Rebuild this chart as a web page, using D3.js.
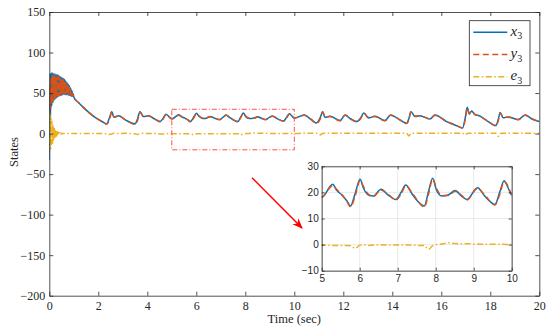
<!DOCTYPE html>
<html>
<head>
<meta charset="utf-8">
<script src="https://cdn.jsdelivr.net/npm/d3@7"></script>
<style>
  body { margin: 0; background: #fff; }
  svg { display: block; }
</style>
</head>
<body>
<svg id="chart" width="550" height="335"></svg>
<script>
// time (sec), shared by the three series
var time = [
  0, 0.025, 0.05, 0.075, 0.1, 0.125, 0.15, 0.175, 0.2, 0.225,
  0.25, 0.275, 0.3, 0.325, 0.35, 0.375, 0.4, 0.425, 0.45, 0.475,
  0.5, 0.525, 0.55, 0.575, 0.6, 0.625, 0.65, 0.675, 0.7, 0.725,
  0.75, 0.775, 0.8, 0.825, 0.85, 0.875, 0.9, 0.925, 0.95, 0.975, 1.0,
  1.2, 1.4, 1.6, 1.8, 2.0, 2.2, 2.34, 2.45, 2.55, 2.64,
  2.82, 3.1, 3.5, 3.6, 3.7, 3.84, 4.04, 4.3, 4.52, 4.65,
  4.76, 5.0, 5.29, 5.39, 5.53, 5.66, 5.76, 5.88, 6.01, 6.1,
  6.23, 6.36, 6.56, 6.75, 6.95, 7.1, 7.21, 7.37, 7.54, 7.7,
  7.81, 7.92, 8.02, 8.16, 8.33, 8.51, 8.68, 8.82, 9.1, 9.3,
  9.56, 9.69, 9.8, 9.91, 10.0,
  10.4, 10.7, 10.9, 11.05, 11.16, 11.25, 11.46, 11.87, 12.07, 12.3,
  12.55, 12.7, 12.84, 13.02, 13.29, 13.7, 13.93, 14.3, 14.59, 14.68,
  14.76, 14.93, 15.13, 15.54, 15.74, 16.22, 16.6, 16.87, 16.98, 17.06,
  17.14, 17.24, 17.37, 17.55, 17.9, 18.23, 18.33, 18.4, 18.53, 18.73,
  19.14, 19.42, 19.7, 20.0
];
var x3 = [
  -33, 74, 22, 75, 34, 75, 38, 74, 41, 74,
  43, 73, 44, 73, 45, 72, 46, 71, 47, 70,
  47, 69, 48, 68, 48, 67, 48, 65, 48, 63,
  48, 61, 47, 59, 47, 56, 46, 53, 46, 49, 45,
  38, 32, 26.5, 21.5, 17.5, 14, 12, 19, 27, 20,
  22, 17, 12, 18, 27, 21, 22, 18, 15, 19,
  24, 18.1, 23.1, 20.9, 19, 16.8, 14.8, 19.6, 25, 21.6,
  19, 18.6, 21.2, 19, 17.3, 20.3, 22.8, 19.6, 16.4, 14.8,
  20.3, 25.4, 20.9, 18.6, 19, 20.7, 18.6, 17.3, 21.8, 18.4,
  15.4, 20.3, 24.5, 21.6, 19,
  23, 17, 13, 19, 27, 20, 21.4, 16, 23, 18,
  14.8, 19, 25.5, 19.3, 21.3, 16, 23, 17, 12.7, 19,
  27, 21, 22, 18, 23, 14.8, 10, 7, 20, 32.4,
  24, 28, 23.4, 22, 15, 9.9, 18, 26, 19.4, 20.6,
  17.3, 23, 18, 14.8
];
var y3 = [
  30, 62, 30, 70, 37, 72, 40, 72, 43, 72,
  44, 71, 45, 71, 46, 70, 47, 69, 48, 68,
  48, 67, 49, 66, 49, 65, 49, 63, 49, 61,
  49, 59, 48, 57, 48, 55, 47, 52, 46, 48, 45,
  38, 32, 26.5, 21.5, 17.5, 14, 11.5, 16.5, 26.5, 20.5,
  21.8, 17.3, 11.5, 16, 26.5, 21.5, 21.8, 18.3, 14.5, 18,
  23.5, 18.3, 22.6, 21.2, 19.2, 16.6, 14.5, 18.6, 24.6, 22.2,
  19.3, 18.4, 20.9, 19.3, 17.1, 19.6, 22.5, 20.1, 16.5, 14.4,
  19.3, 25.1, 21.6, 18.8, 18.8, 20.4, 18.9, 17.1, 21.5, 18.8,
  15.2, 19.4, 24.2, 22.2, 19.4,
  22.6, 17.4, 12.5, 17.5, 26.5, 20.6, 21.1, 15.7, 22.6, 18.4,
  14.4, 18, 25, 20, 21, 15.8, 22.6, 17.3, 12.3, 17.5,
  26.5, 21.6, 21.7, 18.2, 22.5, 15, 10.2, 6.8, 18, 31.5,
  25, 27.4, 23.8, 21.7, 15.3, 9.6, 16.5, 25.5, 20, 20.3,
  17.1, 22.6, 18.3, 14.6
];
var e3 = [
  27, -21, 24, -18, 17, -13, 11, -9, 8, -6,
  5, -4, 3.5, -2.5, 2, -1.5, 1.2, -1, 0.8, -0.6,
  0.4, -0.3, 0.2, 0, 0, 0, 0, 0, 0, 0,
  0, 0, 0, 0, 0, 0, 0, 0, 0, 0, 0,
  0, 0, 0, 0, 0, 0, -0.3, -1, -0.5, 0.4,
  0, 0.3, -0.3, -1, -0.5, 0.4, 0, 0.2, -0.4, -0.6,
  0, -0.2, -0.3, -0.3, -0.3, -0.3, -0.4, -1.4, -0.2, -0.1,
  -0.3, -0.2, -0.1, -0.2, -0.2, -0.2, -0.2, -0.2, -0.3, -0.3,
  -1.8, -0.4, 0, 0.2, 0.7, 0.4, 0.3, 0.3, 0.2, 0.1,
  0.1, 0.1, 0.1, 0, 0,
  0.5, 0.5, 0.4, -1.6, 0.2, 0.5, 0.5, 0.5, 0.4, 0.5,
  0.5, 0.5, 0.4, 0.5, 0.5, 0.5, 0.4, 0.5, 0.3, -3,
  0.2, 0.5, 0.5, 0.5, 0.4, 0.5, 0.5, 0.5, -1.6, 0.2,
  0.4, 0.4, 0.5, 0.5, 0.5, 0.5, -3.3, 0, 0.4, 0.5,
  0.5, 0.4, 0.5, 0.5
];
var seriesNames = ['x', 'y', 'e'];
var xTicks = [0, 2, 4, 6, 8, 10, 12, 14, 16, 18, 20];
var yTicks = [-200, -150, -100, -50, 0, 50, 100, 150];
var zoomXTicks = [5, 6, 7, 8, 9, 10];
var zoomYTicks = [-10, 0, 10, 20, 30];

var svg = d3.select('#chart');
var ink = '#262626';
var colors = ['#0072BD', '#D95319', '#EDB120'];
var dashes = [null, '6,3.5', '6,2.5,1.5,2.5'];
var serif = "'Liberation Serif', 'Times New Roman', Times, serif";
var sans = "'Liberation Sans', Arial, Helvetica, sans-serif";
var fmt = d3.format('d');

var series = [x3, y3, e3].map(function (vals) {
  return vals.map(function (v, i) { return [time[i], v]; });
});

// ---- main axes
var m = {left: 49.3, right: 539.3, top: 12, bottom: 295.7};
var x = d3.scaleLinear().domain([0, 20]).range([m.left, m.right]);
var y = d3.scaleLinear().domain([-200, 150]).range([m.bottom, m.top]);

var defs = svg.append('defs');
defs.append('clipPath').attr('id', 'clipMain')
  .append('rect').attr('x', m.left).attr('y', m.top)
  .attr('width', m.right - m.left).attr('height', m.bottom - m.top);

var line = d3.line().x(function (d) { return x(d[0]); }).y(function (d) { return y(d[1]); })
  .curve(d3.curveMonotoneX);

var plot = svg.append('g').attr('clip-path', 'url(#clipMain)');
series.forEach(function (s, i) {
  plot.append('path').datum(s).attr('d', line)
    .attr('fill', 'none').attr('stroke', colors[i]).attr('stroke-width', 1.5)
    .attr('stroke-dasharray', dashes[i]);
});

function styleAxis(g, font, size) {
  g.attr('font-family', font).attr('font-size', size);
  g.select('.domain').attr('stroke', ink).attr('stroke-width', 0.8);
  g.selectAll('.tick line').attr('stroke', ink).attr('stroke-width', 0.8);
  g.selectAll('.tick text').attr('fill', ink).attr('font-family', font).attr('font-size', size);
}

svg.append('g').attr('transform', 'translate(0,' + m.bottom + ')')
  .call(d3.axisBottom(x).tickValues(xTicks).tickFormat(fmt).tickSize(-4).tickPadding(6).tickSizeOuter(0))
  .call(styleAxis, serif, 12);
svg.append('g').attr('transform', 'translate(0,' + m.top + ')')
  .call(d3.axisTop(x).tickValues(xTicks).tickSize(-4).tickFormat('').tickSizeOuter(0))
  .call(styleAxis, serif, 12);
svg.append('g').attr('transform', 'translate(' + m.left + ',0)')
  .call(d3.axisLeft(y).tickValues(yTicks).tickFormat(fmt).tickSize(-4).tickPadding(4).tickSizeOuter(0))
  .call(styleAxis, serif, 12);
svg.append('g').attr('transform', 'translate(' + m.right + ',0)')
  .call(d3.axisRight(y).tickValues(yTicks).tickSize(-4).tickFormat('').tickSizeOuter(0))
  .call(styleAxis, serif, 12);

svg.append('text').attr('x', (m.left + m.right) / 2).attr('y', 323)
  .attr('text-anchor', 'middle').attr('fill', ink)
  .attr('font-family', serif).attr('font-size', 12.5).text('Time (sec)');
svg.append('text').attr('transform', 'translate(18,152) rotate(-90)')
  .attr('text-anchor', 'middle').attr('fill', ink)
  .attr('font-family', serif).attr('font-size', 12.5).text('States');

// zoom region marker
svg.append('rect')
  .attr('x', x(5)).attr('y', y(30))
  .attr('width', x(10) - x(5)).attr('height', y(-20) - y(30))
  .attr('fill', 'none').attr('stroke', '#ff4d4d').attr('stroke-width', 1)
  .attr('stroke-dasharray', '5,2,1,2');

// ---- legend
var lg = svg.append('g');
lg.append('rect').attr('x', 469.3).attr('y', 20.7).attr('width', 60.7).attr('height', 65)
  .attr('fill', '#fff').attr('stroke', ink).attr('stroke-width', 0.8);
seriesNames.forEach(function (name, i) {
  var ly = 32.3 + i * 22.2;
  lg.append('line').attr('x1', 473.3).attr('x2', 507.3).attr('y1', ly).attr('y2', ly)
    .attr('stroke', colors[i]).attr('stroke-width', 1.5).attr('stroke-dasharray', dashes[i]);
  var t = lg.append('text').attr('x', 510.5).attr('y', ly + 3.5).attr('fill', ink)
    .attr('font-family', serif).attr('font-size', 15);
  t.append('tspan').attr('font-style', 'italic').text(name);
  t.append('tspan').attr('dy', 3.5).attr('font-size', 10).text('3');
});

// ---- arrow
defs.append('marker').attr('id', 'head')
  .attr('viewBox', '0 0 10 10').attr('refX', 9).attr('refY', 5)
  .attr('markerWidth', 7).attr('markerHeight', 7).attr('orient', 'auto')
  .append('path').attr('d', 'M0,1 L10,5 L0,9 L3,5 Z').attr('fill', '#ff0000');
svg.append('line').attr('x1', 252).attr('y1', 177.7).attr('x2', 302).attr('y2', 228)
  .attr('stroke', '#ff0000').attr('stroke-width', 1.5).attr('marker-end', 'url(#head)');

// ---- inset
var z = {left: 321.7, right: 511.7, top: 166.3, bottom: 270.7};
var zx = d3.scaleLinear().domain([5, 10]).range([z.left, z.right]);
var zy = d3.scaleLinear().domain([-10, 30]).range([z.bottom, z.top]);

defs.append('clipPath').attr('id', 'clipZoom')
  .append('rect').attr('x', z.left).attr('y', z.top)
  .attr('width', z.right - z.left).attr('height', z.bottom - z.top);

var inset = svg.append('g');
inset.append('rect').attr('x', z.left).attr('y', z.top)
  .attr('width', z.right - z.left).attr('height', z.bottom - z.top).attr('fill', '#fff');

inset.selectAll('.vgrid').data(zoomXTicks).enter().append('line')
  .attr('x1', zx).attr('x2', zx).attr('y1', z.top).attr('y2', z.bottom)
  .attr('stroke', '#e3e3e3').attr('stroke-width', 0.8);
inset.selectAll('.hgrid').data(zoomYTicks).enter().append('line')
  .attr('y1', zy).attr('y2', zy).attr('x1', z.left).attr('x2', z.right)
  .attr('stroke', '#e3e3e3').attr('stroke-width', 0.8);

var zline = d3.line().x(function (d) { return zx(d[0]); }).y(function (d) { return zy(d[1]); })
  .curve(d3.curveMonotoneX);
var zplot = inset.append('g').attr('clip-path', 'url(#clipZoom)');
series.forEach(function (s, i) {
  zplot.append('path').datum(s).attr('d', zline)
    .attr('fill', 'none').attr('stroke', colors[i]).attr('stroke-width', 1.5)
    .attr('stroke-dasharray', dashes[i]);
});

inset.append('g').attr('transform', 'translate(0,' + z.bottom + ')')
  .call(d3.axisBottom(zx).tickValues(zoomXTicks).tickFormat(fmt).tickSize(-3).tickPadding(4).tickSizeOuter(0))
  .call(styleAxis, sans, 10);
inset.append('g').attr('transform', 'translate(0,' + z.top + ')')
  .call(d3.axisTop(zx).tickValues(zoomXTicks).tickSize(-3).tickFormat('').tickSizeOuter(0))
  .call(styleAxis, sans, 10);
inset.append('g').attr('transform', 'translate(' + z.left + ',0)')
  .call(d3.axisLeft(zy).tickValues(zoomYTicks).tickFormat(fmt).tickSize(-3).tickPadding(3).tickSizeOuter(0))
  .call(styleAxis, sans, 10);
inset.append('g').attr('transform', 'translate(' + z.right + ',0)')
  .call(d3.axisRight(zy).tickValues(zoomYTicks).tickSize(-3).tickFormat('').tickSizeOuter(0))
  .call(styleAxis, sans, 10);
</script>
</body>
</html>
